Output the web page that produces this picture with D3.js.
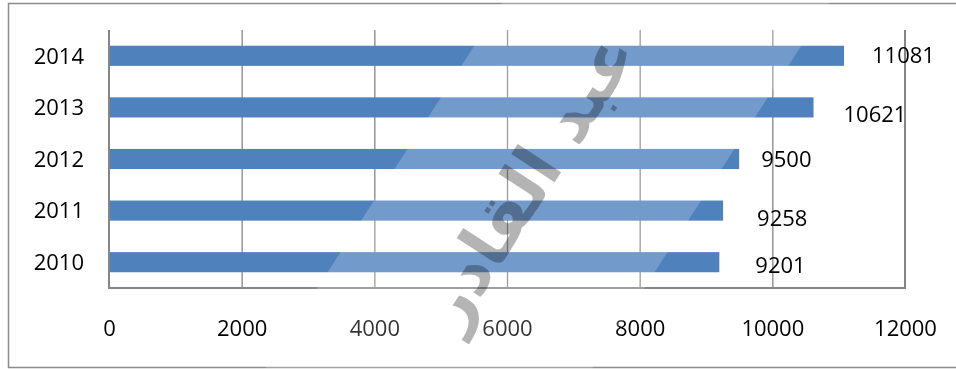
<!DOCTYPE html>
<html>
<head>
<meta charset="utf-8">
<script src="https://cdn.jsdelivr.net/npm/d3@7"></script>
<style>
  html, body { margin: 0; padding: 0; background: #fff; }
  svg { display: block; }
  text { font-family: "Open Sans", "Noto Sans", sans-serif; }
</style>
</head>
<body>
<svg id="chart" width="956" height="370"></svg>
<script>
// Yearly totals
const years = ["2010", "2011", "2012", "2013", "2014"];
const totals = [9201, 9258, 9500, 10621, 11081];
const xTicks = [0, 2000, 4000, 6000, 8000, 10000, 12000];
// Hand-placed offsets of the value labels (dx, dy in px from bar end / bar centre)
const labelDx = [36, 34, 22, 30, 28];
const labelDy = [3, 8, 0, 7, -1];
const watermark = "عبد القادر";

const W = 956, H = 370;
const plot = { left: 109, right: 905, top: 30, bottom: 288 };
const blue = "#4f81bd";
const gridGray = "#868686";

const svg = d3.select("#chart");

// outer frame
svg.append("path")
  .attr("d", `M${W + 5},3.5 H8.5 V367.5 H${W + 5}`)
  .attr("fill", "none").attr("stroke", "#8c8c8c").attr("stroke-width", 1.5);

const x = d3.scaleLinear().domain([0, 12000]).range([plot.left, plot.right]);
const y = d3.scaleBand().domain(years.slice().reverse())
  .range([plot.top, plot.bottom]).paddingInner(0.61).paddingOuter(0.305);

// vertical gridlines
svg.append("g").selectAll("line").data(xTicks.slice(1, -1)).join("line")
  .attr("x1", d => x(d) + 0.5).attr("x2", d => x(d) + 0.5)
  .attr("y1", plot.top).attr("y2", plot.bottom)
  .attr("stroke", gridGray).attr("stroke-width", 1.3);

// plot edges: left axis, bottom axis, right edge
svg.append("path")
  .attr("d", `M${x(0)},${plot.top} V${plot.bottom} H${x(12000)} V${plot.top}`)
  .attr("fill", "none").attr("stroke", "#868686").attr("stroke-width", 2);

// bars
svg.append("g").selectAll("rect").data(years).join("rect")
  .attr("x", x(0) + 1)
  .attr("y", d => y(d))
  .attr("width", (d, i) => x(totals[i]) - x(0) - 1)
  .attr("height", y.bandwidth())
  .attr("fill", blue);

// x axis labels
const xAxis = d3.axisBottom(x).tickValues(xTicks).tickSize(0).tickPadding(0).tickFormat(d3.format("d"));
const gx = svg.append("g").attr("transform", `translate(0,${plot.bottom})`).call(xAxis);
gx.select(".domain").remove();
gx.selectAll("text")
  .attr("y", 40).attr("dy", "0.35em")
  .attr("font-size", 22).attr("fill", "#000")
  .style("font-family", '"Open Sans", sans-serif');

// y axis labels
const yAxis = d3.axisLeft(y).tickSize(0).tickPadding(0);
const gy = svg.append("g").attr("transform", `translate(${plot.left},0)`).call(yAxis);
gy.select(".domain").remove();
gy.selectAll("text")
  .attr("x", -25).attr("dy", "0.35em")
  .attr("font-size", 22).attr("fill", "#000")
  .style("font-family", '"Open Sans", sans-serif');

// value labels
svg.append("g").selectAll("text").data(years).join("text")
  .attr("x", (d, i) => x(totals[i]) + labelDx[i])
  .attr("y", (d, i) => y(d) + y.bandwidth() / 2 + labelDy[i])
  .attr("dy", "0.35em")
  .attr("font-size", 22).attr("fill", "#000")
  .text((d, i) => totals[i]);

// diagonal light band of the watermark
const slope = -0.648;
const bx0 = 504, bx1 = 831; // band edges at the top of the image
svg.append("polygon")
  .attr("points", [
    [bx0, 0], [bx1, 0], [bx1 + slope * H, H], [bx0 + slope * H, H]
  ].map(p => p.join(",")).join(" "))
  .attr("fill", "#fff").attr("fill-opacity", 0.2);

// watermark text
svg.append("text")
  .attr("transform", "translate(528,180) rotate(-57)")
  .attr("text-anchor", "middle")
  .attr("dominant-baseline", "central")
  .style("font-family", '"DejaVu Sans", sans-serif')
  .attr("font-weight", "bold")
  .attr("font-size", 68)
  .attr("fill", "#b4b4b4")
  .style("mix-blend-mode", "multiply")
  .text(watermark);
</script>
</body>
</html>
